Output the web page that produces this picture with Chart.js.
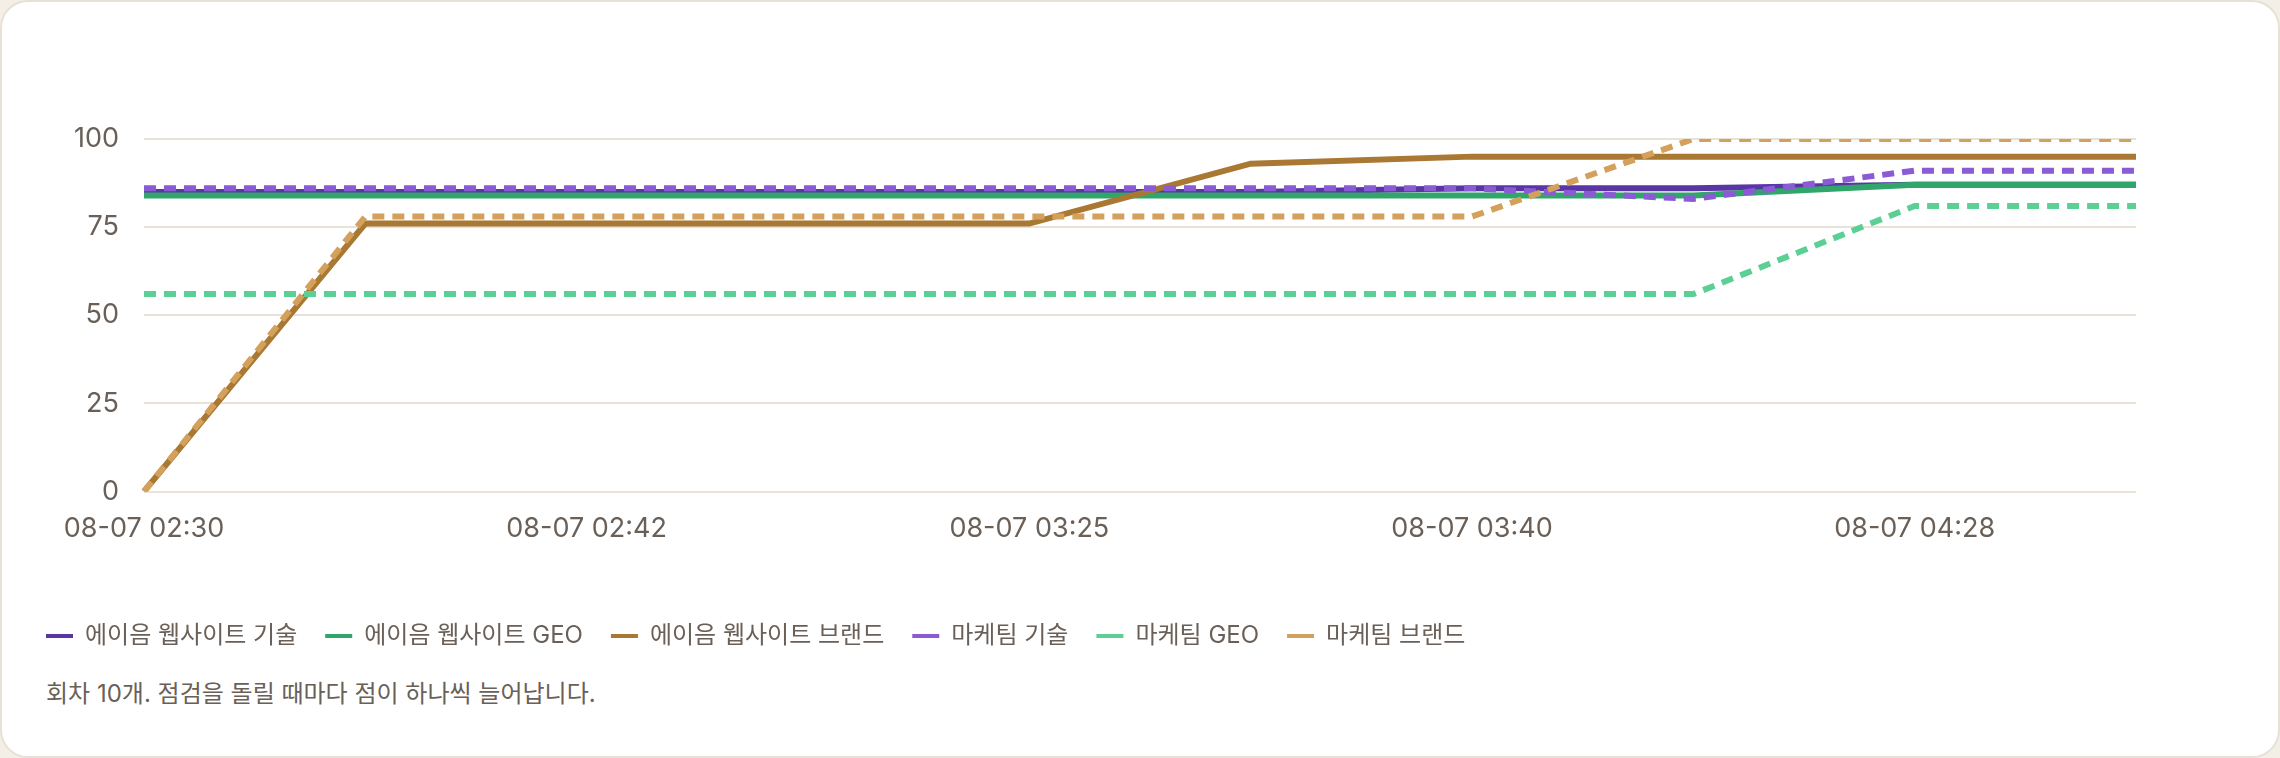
<!DOCTYPE html>
<html lang="ko">
<head>
<meta charset="utf-8">
<script src="https://cdn.jsdelivr.net/npm/chart.js@4.4.1/dist/chart.umd.min.js"></script>
<style>
  html, body { margin: 0; padding: 0; background: #f3efe7; }
  body { width: 2280px; height: 758px; position: relative; overflow: hidden;
         font-family: Inter, "Noto Sans CJK KR", sans-serif; }
  .card { position: absolute; left: 0; top: 0; width: 2280px; height: 758px; box-sizing: border-box;
          background: #fff; border: 2px solid #e7e1d5; border-radius: 28px; }
  .chart-box { position: absolute; left: 0; top: 0; width: 2280px; height: 658px; }
  .note { position: absolute; left: 46px; top: 678px; font-size: 24px; line-height: 32px; color: #6a6058; }
</style>
</head>
<body>
<div class="card"></div>
<div class="chart-box"><canvas id="scoreChart"></canvas></div>
<div class="note">회차 10개. 점검을 돌릴 때마다 점이 하나씩 늘어납니다.</div>
<script>
// run timestamps (only every other one is shown on the axis)
const runLabels = ["08-07 02:30", "08-07 02:36", "08-07 02:42", "08-07 03:10", "08-07 03:25",
                   "08-07 03:31", "08-07 03:40", "08-07 04:05", "08-07 04:28", "08-07 04:41"];

const seriesNames = ["에이음 웹사이트 기술", "에이음 웹사이트 GEO", "에이음 웹사이트 브랜드",
                     "마케팀 기술", "마케팀 GEO", "마케팀 브랜드"];

const aimTech  = [85, 85, 85, 85, 85, 85, 86, 86, 87, 87];
const aimGeo   = [84, 84, 84, 84, 84, 84, 84, 84, 87, 87];
const aimBrand = [0, 76, 76, 76, 76, 93, 95, 95, 95, 95];
const mktTech  = [86, 86, 86, 86, 86, 86, 86, 83, 91, 91];
const mktGeo   = [56, 56, 56, 56, 56, 56, 56, 56, 81, 81];
const mktBrand = [0, 78, 78, 78, 78, 78, 78, 100, 100, 100];

const yTicks = [0, 25, 50, 75, 100];

const colors = ["#5b35a6", "#31a66a", "#a97833", "#8a5bd4", "#5ccf94", "#d3a15b"];
const seriesData = [aimTech, aimGeo, aimBrand, mktTech, mktGeo, mktBrand];

const textColor = "#6a6058";
const gridColor = "#e8e2d7";

Chart.defaults.font.family = 'Inter, "Noto Sans CJK KR", sans-serif';
Chart.defaults.color = textColor;

const datasets = seriesData.map((values, i) => ({
  label: seriesNames[i],
  data: values,
  borderColor: colors[i],
  backgroundColor: colors[i],
  borderWidth: 6,
  borderDash: i >= 3 ? [12, 8] : [],
  pointRadius: 0,
  pointHoverRadius: 0,
  tension: 0,
  fill: false,
  order: 6 - i   // later series drawn on top
}));

new Chart(document.getElementById("scoreChart"), {
  type: "line",
  data: { labels: runLabels, datasets: datasets },
  options: {
    responsive: true,
    maintainAspectRatio: false,
    animation: false,
    layout: { padding: { left: 18, right: 144, top: 139, bottom: 0 } },
    scales: {
      x: {
        grid: { display: false },
        border: { display: false },
        ticks: {
          font: { size: 27 },
          color: textColor,
          padding: 13,
          maxRotation: 0,
          autoSkip: true,
          maxTicksLimit: 6
        },
        afterFit(scale) { scale.height = 104.5; }
      },
      y: {
        min: 0,
        max: 100,
        afterBuildTicks(scale) { scale.ticks = yTicks.map(v => ({ value: v })); },
        grid: { color: gridColor, lineWidth: 2, drawTicks: false },
        border: { display: false },
        ticks: { font: { size: 27 }, color: textColor, padding: 25 },
        afterFit(scale) { scale.width = 126; }
      }
    },
    plugins: {
      tooltip: { enabled: false },
      legend: {
        position: "bottom",
        align: "start",
        labels: {
          font: { size: 24 },
          color: textColor,
          boxWidth: 27,
          boxHeight: 4,
          padding: 28,
          sort: (a, b) => a.datasetIndex - b.datasetIndex,
          generateLabels(chart) {
            const items = Chart.defaults.plugins.legend.labels.generateLabels(chart);
            items.forEach(it => {
              it.fillStyle = it.strokeStyle;
              it.lineWidth = 0;
              it.lineDash = [];
            });
            return items;
          }
        }
      }
    }
  }
});
</script>
</body>
</html>
